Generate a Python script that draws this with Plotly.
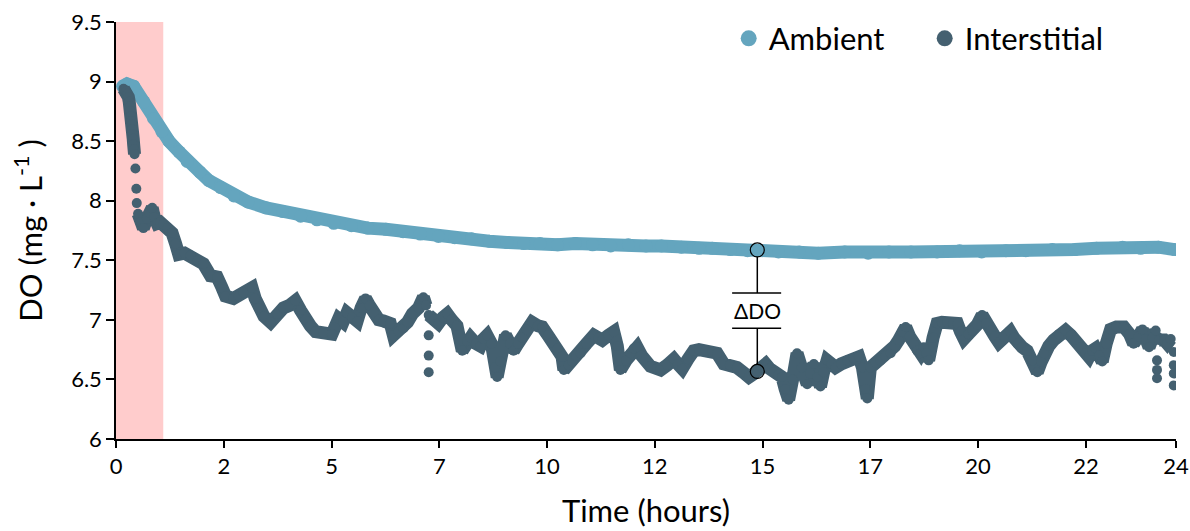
import plotly.graph_objects as go

# ---------------- data ----------------
amb_t = [0.15, 0.25, 0.40, 0.63, 0.85, 1.04, 1.20, 1.43, 1.61, 1.90, 2.10, 2.37, 2.67, 2.99,
         3.40, 3.77, 4.18, 4.55, 4.93, 5.33, 5.70, 6.11, 6.50, 6.89, 7.30, 7.67, 8.05, 8.45,
         8.85, 9.23, 9.60, 10.0, 10.4, 10.79, 11.2, 11.6, 12.0, 12.35, 12.8, 13.2, 13.5, 13.91,
         14.3, 14.52, 15.0, 15.47, 15.9, 16.5, 17.03, 17.5, 18.0, 18.59, 19.1, 19.6, 20.15,
         20.6, 21.2, 21.71, 22.2, 22.79, 23.2, 23.6, 23.97]
amb_do = [8.96, 8.98, 8.96, 8.83, 8.69, 8.58, 8.50, 8.41, 8.33, 8.24, 8.17, 8.11, 8.04, 7.99,
          7.94, 7.91, 7.87, 7.84, 7.81, 7.79, 7.77, 7.76, 7.74, 7.72, 7.70, 7.69, 7.68, 7.66,
          7.65, 7.64, 7.64, 7.63, 7.64, 7.63, 7.62, 7.63, 7.62, 7.62, 7.61, 7.60, 7.60, 7.59,
          7.58, 7.58, 7.57, 7.57, 7.56, 7.57, 7.56, 7.57, 7.57, 7.57, 7.58, 7.57, 7.58,
          7.58, 7.59, 7.59, 7.60, 7.61, 7.60, 7.61, 7.59]

# None entries mark breaks where individual readings stand apart
int_t = [0.17, 0.20, 0.23, 0.26, 0.28, 0.30, 0.32, 0.33, 0.34, 0.35, 0.36, 0.37, 0.38, 0.39,
         0.40, 0.41, 0.42, None, 0.44, None, 0.46, None, 0.47, None,
         0.50, 0.56, 0.62, 0.70, 0.76, 0.82, 0.87, 0.93, 1.00, 1.07, 1.17, 1.27, 1.35, 1.42,
         1.55, 1.69, 1.85, 1.98, 2.14, 2.29, 2.40, 2.48, 2.66, 2.78, 2.89, 3.08, 3.15, 3.23,
         3.35, 3.50, 3.65, 3.79, 3.92, 4.06, 4.18, 4.29, 4.40, 4.52, 4.70, 4.89, 5.04, 5.14,
         5.23, 5.35, 5.46, 5.55, 5.65, 5.74, 5.83, 5.95, 6.06, 6.21, 6.28, 6.40, 6.51, 6.60,
         6.71, 6.85, 6.96, 7.02, None, 7.08, None, 7.08, None, 7.08, None,
         7.08, 7.20, 7.30, 7.40, 7.50, 7.60, 7.72, 7.84, 7.95, 8.03, 8.15, 8.25, 8.32, 8.40,
         8.50, 8.58, 8.63, 8.70, 8.82, 8.92, 9.00, 9.10, 9.20, 9.30, 9.42, 9.55, 9.65, 9.78,
         9.88, 10.0, 10.10, 10.14, 10.25, 10.33, 10.42, 10.52, 10.65, 10.82, 10.92, 11.01,
         11.15, 11.27, 11.35, 11.42, 11.55, 11.65, 11.72, 11.80, 11.90, 11.99, 12.10, 12.25,
         12.33, 12.48, 12.63, 12.72, 12.82, 12.95, 13.08, 13.20, 13.35, 13.50, 13.61, 13.76,
         13.90, 14.06, 14.20, 14.33, 14.45, 14.52, 14.62, 14.71, 14.80, 14.89, 15.00, 15.08,
         15.15, 15.23, 15.32, 15.42, 15.52, 15.65, 15.72, 15.80, 15.88, 15.95, 16.02, 16.10,
         16.20, 16.29, 16.42, 16.56, 16.70, 16.82, 16.90, 16.96, 17.01, 17.08, 17.20, 17.31,
         17.42, 17.54, 17.63, 17.72, 17.80, 17.88, 17.97, 18.06, 18.14, 18.22, 18.29, 18.35,
         18.40, 18.50, 18.59, 18.70, 18.82, 18.95, 19.05, 19.12, 19.20, 19.30, 19.39, 19.50,
         19.61, 19.70, 19.80, 19.90, 19.99, 20.10, 20.25, 20.33, 20.41, 20.52, 20.63, 20.75,
         20.86, 20.95, 21.01, 21.12, 21.23, 21.35, 21.50, 21.62, 21.73, 21.85, 21.95, 22.03,
         22.10, 22.18, 22.26, 22.33, 22.42, 22.52, 22.65, 22.82, 22.95, 23.04, 23.15, 23.24,
         23.32, 23.39, 23.47, 23.54, None, 23.57, None, 23.57, None, 23.57, None,
         23.62, 23.73, 23.80, 23.88, None, 23.95, None, 23.95, None, 23.95, None, 23.95]
int_do = [8.94, 8.93, 8.92, 8.90, 8.87, 8.83, 8.79, 8.75, 8.71, 8.67, 8.64, 8.60, 8.56, 8.52,
          8.47, 8.43, 8.39, None, 8.27, None, 8.10, None, 7.98, None,
          7.89, 7.82, 7.77, 7.85, 7.90, 7.94, 7.86, 7.81, 7.82, 7.80, 7.77, 7.73, 7.64, 7.55,
          7.56, 7.54, 7.50, 7.47, 7.37, 7.36, 7.27, 7.20, 7.18, 7.20, 7.23, 7.27, 7.18, 7.10,
          7.03, 6.98, 7.05, 7.10, 7.12, 7.16, 7.08, 7.00, 6.95, 6.90, 6.89, 6.88, 7.01, 6.98,
          7.06, 7.02, 6.99, 7.10, 7.18, 7.12, 7.06, 7.00, 6.99, 6.97, 6.87, 6.90, 6.93, 6.98,
          7.05, 7.10, 7.19, 7.12, None, 6.87, None, 6.70, None, 6.56, None,
          7.04, 7.00, 6.97, 7.02, 7.05, 7.00, 6.95, 6.74, 6.82, 6.85, 6.80, 6.78, 6.84, 6.87,
          6.80, 6.60, 6.52, 6.65, 6.87, 6.80, 6.74, 6.80, 6.85, 6.92, 6.98, 6.95, 6.94, 6.87,
          6.81, 6.76, 6.69, 6.58, 6.62, 6.65, 6.70, 6.72, 6.80, 6.87, 6.85, 6.83,
          6.87, 6.90, 6.78, 6.58, 6.66, 6.72, 6.76, 6.77, 6.70, 6.66, 6.61, 6.59,
          6.58, 6.62, 6.67, 6.63, 6.59, 6.67, 6.74, 6.75, 6.74, 6.73, 6.72, 6.63,
          6.62, 6.60, 6.56, 6.52, 6.55, 6.57, 6.60, 6.63, 6.59, 6.56, 6.54, 6.52,
          6.42, 6.33, 6.50, 6.72, 6.60, 6.46, 6.55, 6.63, 6.52, 6.44, 6.56, 6.66,
          6.63, 6.60, 6.63, 6.66, 6.68, 6.69, 6.60, 6.42, 6.34, 6.60, 6.64, 6.66,
          6.70, 6.72, 6.78, 6.83, 6.90, 6.94, 6.86, 6.80, 6.74, 6.72, 6.77, 6.72,
          6.66, 6.85, 6.97, 6.98, 6.98, 6.97, 6.97, 6.90, 6.84, 6.88, 6.91, 6.96,
          7.04, 6.97, 6.91, 6.86, 6.81, 6.86, 6.90, 6.85, 6.80, 6.77, 6.74, 6.66,
          6.56, 6.65, 6.72, 6.78, 6.83, 6.88, 6.91, 6.87, 6.83, 6.77, 6.72, 6.69,
          6.74, 6.76, 6.70, 6.65, 6.80, 6.92, 6.94, 6.94, 6.88, 6.80, 6.86, 6.92,
          6.84, 6.77, 6.85, 6.91, None, 6.66, None, 6.58, None, 6.51, None,
          6.83, 6.83, 6.80, 6.84, None, 6.73, None, 6.62, None, 6.55, None, 6.45]

x_tick_vals = [0, 2.44, 4.88, 7.32, 9.76, 12.2, 14.64, 17.08, 19.52, 21.96, 24]
x_tick_text = ["0", "2", "5", "7", "10", "12", "15", "17", "20", "22", "24"]
y_tick_vals = [6, 6.5, 7, 7.5, 8, 8.5, 9, 9.5]
y_tick_text = ["6", "6.5", "7", "7.5", "8", "8.5", "9", "9.5"]

# shaded initial period (hours)
band_start, band_end = 0, 1.07
# ΔDO marker location
delta_t = 14.52
delta_amb = 7.587
delta_int = 6.567

AMB_COLOR = "rgb(100,165,190)"
INT_COLOR = "rgb(68,96,112)"
FONT = "Lato"

fig = go.Figure()

fig.add_trace(go.Scatter(x=amb_t, y=amb_do, mode="lines+markers", name="Ambient",
                         line=dict(color=AMB_COLOR, width=13),
                         marker=dict(color=AMB_COLOR, size=13), showlegend=False))
fig.add_trace(go.Scatter(x=int_t, y=int_do, mode="lines+markers", name="Interstitial",
                         line=dict(color=INT_COLOR, width=13),
                         marker=dict(color=INT_COLOR, size=10), showlegend=False,
                         connectgaps=False))
# legend entries
fig.add_trace(go.Scatter(x=[None], y=[None], mode="markers", name="Ambient",
                         marker=dict(color=AMB_COLOR, size=20)))
fig.add_trace(go.Scatter(x=[None], y=[None], mode="markers", name="Interstitial",
                         marker=dict(color=INT_COLOR, size=20)))

shapes = [
    dict(type="rect", xref="x", yref="y", x0=band_start, x1=band_end, y0=6, y1=9.5,
         fillcolor="rgb(255,204,204)", line=dict(width=0), layer="below"),
]
px_per_unit = 419 / 3.5
r_units = 7 / px_per_unit
bar_hi, bar_lo = 7.225, 6.929
shapes += [
    dict(type="line", xref="x", yref="y", x0=delta_t, x1=delta_t,
         y0=delta_amb - r_units, y1=bar_hi, line=dict(color="black", width=1.5)),
    dict(type="line", xref="x", yref="y", x0=delta_t, x1=delta_t,
         y0=bar_lo, y1=delta_int + r_units, line=dict(color="black", width=1.5)),
    dict(type="line", xref="x", yref="y", x0=13.95, x1=15.06, y0=bar_hi, y1=bar_hi,
         line=dict(color="black", width=1.5)),
    dict(type="line", xref="x", yref="y", x0=13.95, x1=15.06, y0=bar_lo, y1=bar_lo,
         line=dict(color="black", width=1.5)),
    dict(type="circle", xref="x", yref="y", xsizemode="pixel", ysizemode="pixel",
         xanchor=delta_t, yanchor=delta_amb, x0=-7, x1=7, y0=-7, y1=7,
         line=dict(color="black", width=1.2)),
    dict(type="circle", xref="x", yref="y", xsizemode="pixel", ysizemode="pixel",
         xanchor=delta_t, yanchor=delta_int, x0=-7, x1=7, y0=-7, y1=7,
         line=dict(color="black", width=1.2)),
]

fig.update_layout(
    width=1190, height=531,
    margin=dict(l=116, r=14, t=20, b=92),
    paper_bgcolor="white", plot_bgcolor="white",
    font=dict(family=FONT, color="black"),
    shapes=shapes,
    annotations=[dict(x=delta_t, y=(bar_hi + bar_lo) / 2, xref="x", yref="y",
                      text="ΔDO", showarrow=False,
                      font=dict(family=FONT, size=21, color="black"))],
    legend=dict(orientation="h", x=0.578, y=0.96, xanchor="left", yanchor="middle",
                font=dict(family=FONT, size=31), entrywidth=151,
                bgcolor="rgba(0,0,0,0)"),
    xaxis=dict(range=[0, 24], tickvals=x_tick_vals, ticktext=x_tick_text, automargin=False,
               showline=True, linecolor="black", linewidth=1.5, ticks="outside",
               ticklen=7, tickcolor="black", tickwidth=1.5, showgrid=False, zeroline=False,
               tickfont=dict(size=22), title=dict(text="Time (hours)", font=dict(size=31),
                                                   standoff=22)),
    yaxis=dict(range=[6, 9.5], tickvals=y_tick_vals, ticktext=y_tick_text, automargin=False,
               showline=True, linecolor="black", linewidth=1.5, ticks="outside",
               ticklen=8, tickcolor="black", tickwidth=1.5, showgrid=False, zeroline=False,
               tickfont=dict(size=22),
               title=dict(text="DO (mg · L<sup>-1</sup> )", font=dict(size=31), standoff=19)),
)

fig.write_html("out.html")
